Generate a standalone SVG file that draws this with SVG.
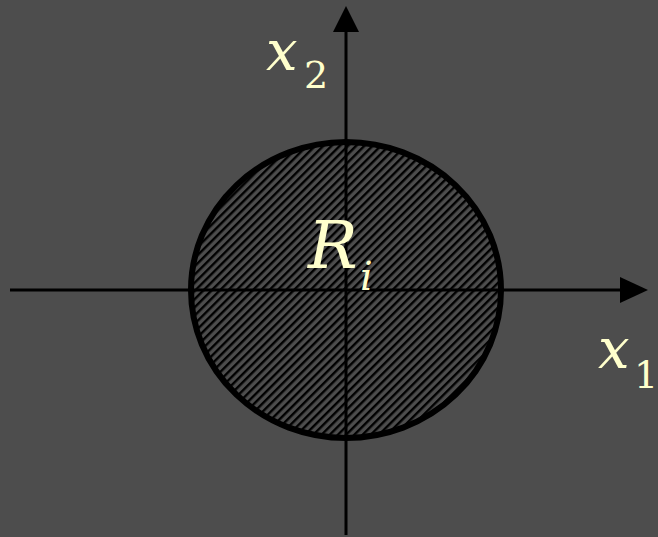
<svg xmlns="http://www.w3.org/2000/svg" width="658" height="537" viewBox="0 0 658 537">
<style>
.ax{stroke:#000;stroke-width:3;fill:none}
.lbl{fill:#ffffcc;font-family:'DejaVu Serif',serif;font-style:italic}
.sub{fill:#ffffcc;font-family:'DejaVu Serif',serif}
</style>
<defs>
<pattern id="hatch" patternUnits="userSpaceOnUse" width="5.8" height="10" patternTransform="rotate(45)">
<rect x="0" y="0" width="2.4" height="10" fill="#000"/>
</pattern>
</defs>
<rect width="658" height="537" fill="#4d4d4d"/>
<g id="region">
<ellipse cx="346" cy="290" rx="155" ry="148" fill="#4d4d4d"/>
<ellipse cx="346" cy="290" rx="155" ry="148" fill="url(#hatch)" stroke="#000" stroke-width="6"/>
</g>
<g id="axes">
<line class="ax" x1="10" y1="290" x2="622" y2="290"/>
<polygon points="620,277 648,290 620,303" fill="#000"/>
<line class="ax" x1="346" y1="535" x2="346" y2="30"/>
<polygon points="333,32 346,6 359,32" fill="#000"/>
</g>
<g id="labels">
<text class="lbl" x="266" y="70" font-size="56">x</text>
<text class="sub" x="304" y="88" font-size="38">2</text>
<text class="lbl" x="598" y="368" font-size="56">x</text>
<text class="sub" x="634" y="388" font-size="38">1</text>
<text class="lbl" x="308" y="268" font-size="66">R</text>
<text class="lbl" x="360" y="290" font-size="40">i</text>
</g>
</svg>
